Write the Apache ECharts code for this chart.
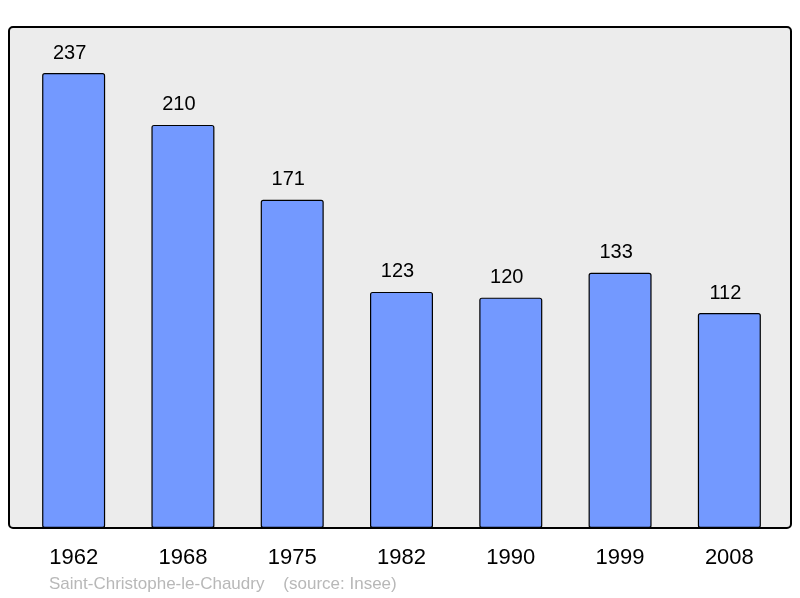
<!DOCTYPE html>
<html>
<head>
<meta charset="utf-8">
<script src="https://cdn.jsdelivr.net/npm/echarts@6/dist/echarts.min.js"></script>
<style>
  html, body { margin: 0; padding: 0; background: #fff; }
  #zhu { width: 800px; height: 598px; }
</style>
</head>
<body>
<div id="zhu"></div>
<script>
// données
var years = ['1962', '1968', '1975', '1982', '1990', '1999', '2008'];
var population = [237, 210, 171, 123, 120, 133, 112];
var sourceText = 'Saint-Christophe-le-Chaudry    (source: Insee)';

var myChart = echarts.init(document.getElementById('zhu'));

option = {
    animation: false,
    graphic: [
        {
            type: 'rect',
            z: -1,
            shape: { x: 9, y: 27, width: 782, height: 501, r: 4 },
            style: { fill: '#ececec', stroke: '#000', lineWidth: 2 }
        },
        {
            type: 'text',
            left: 49,
            top: 576,
            style: {
                text: sourceText,
                fill: '#b8b8b8',
                font: '17px "Liberation Sans", Arial, sans-serif'
            }
        }
    ],
    grid: {
        left: 19,
        right: 16,
        top: 27,
        bottom: 70
    },
    xAxis: {
        type: 'category',
        data: years,
        axisLine: { show: false },
        axisTick: { show: false },
        axisLabel: {
            color: '#000',
            fontSize: 22,
            fontFamily: '"Liberation Sans", Arial, sans-serif',
            margin: 19
        }
    },
    yAxis: {
        type: 'value',
        min: 0,
        max: 261,
        show: false,
        splitLine: { show: false }
    },
    series: [
        {
            type: 'bar',
            data: population,
            barWidth: 63,
            itemStyle: {
                color: '#7399ff',
                borderColor: '#000',
                borderWidth: 1.2,
                borderRadius: 2
            },
            label: {
                show: true,
                position: 'top',
                distance: 10,
                offset: [-4, 0],
                color: '#000',
                fontSize: 20,
                fontFamily: '"Liberation Sans", Arial, sans-serif'
            }
        }
    ]
};

myChart.setOption(option);
</script>
</body>
</html>
